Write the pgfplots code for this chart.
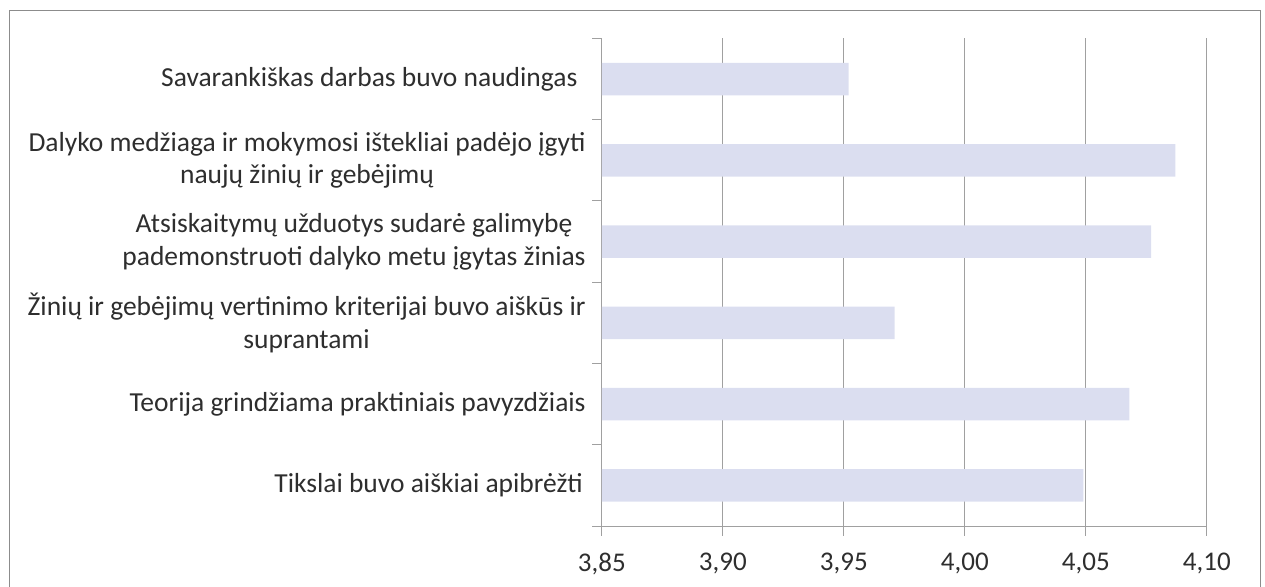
\documentclass[border=0pt]{standalone}
\usepackage{pgfplots}
\pgfplotsset{compat=1.18}
\usepackage{fontspec}
\setmainfont{Carlito}
\definecolor{barc}{HTML}{DBDEF0}
\definecolor{gridc}{HTML}{A0A0A0}
\definecolor{framec}{HTML}{8C8C8C}
\definecolor{txt}{HTML}{2E2E2E}
\begin{document}
\begin{tikzpicture}
\useasboundingbox (0,0) rectangle (1265pt,586pt);
\draw[color=framec, line width=1.3pt] (9.5pt,-3pt) -- (9.5pt,575.3pt) -- (1260.7pt,575.3pt) -- (1260.7pt,-3pt);
\begin{axis}[
  at={(601.8pt,60pt)}, anchor=south west,
  scale only axis, width=605pt, height=487.5pt,
  xmin=3.85, xmax=4.10, ymin=0.5, ymax=6.5,
  xbar, bar width=0.4,
  axis lines*=left,
  axis line style={gridc, line width=1pt},
  xmajorgrids, grid style={gridc, line width=1pt},
  tick align=outside,
  major tick length=9.5pt,
  tick style={gridc, line width=1pt},
  xtick={3.85,3.90,3.95,4.00,4.05,4.10},
  /pgf/number format/.cd, fixed, fixed zerofill, precision=2, use comma, assume math mode=true,
  /pgfplots/.cd,
  ytick={0.5,1.5,2.5,3.5,4.5,5.5,6.5},
  yticklabels={},
  extra y ticks={1,2,3,4,5,6},
  extra y tick labels={Tikslai buvo aiškiai apibrėžti\hspace{0.1em}, Teorija grindžiama praktiniais pavyzdžiais, {Žinių ir gebėjimų vertinimo kriterijai buvo aiškūs ir\\suprantami}, {Atsiskaitymų užduotys sudarė galimybę\hspace{0.4em}\\pademonstruoti dalyko metu įgytas žinias}, {Dalyko medžiaga ir mokymosi ištekliai padėjo įgyti\\naujų žinių ir gebėjimų}, Savarankiškas darbas buvo naudingas\hspace{0.3em}},
  extra y tick style={major tick length=0pt, grid=none},
  yticklabel style={align=center, text=txt, font=\fontsize{27.5pt}{32.5pt}\selectfont, inner xsep=0pt, xshift=-16pt},
  xticklabel style={text=txt, font=\fontsize{27pt}{32.5pt}\selectfont, inner ysep=0pt, yshift=-17pt},
  clip=true,
]
\addplot[fill=barc, draw=none] coordinates {(4.049,1) (4.068,2) (3.971,3) (4.077,4) (4.087,5) (3.952,6)};
\end{axis}
\end{tikzpicture}
\end{document}
